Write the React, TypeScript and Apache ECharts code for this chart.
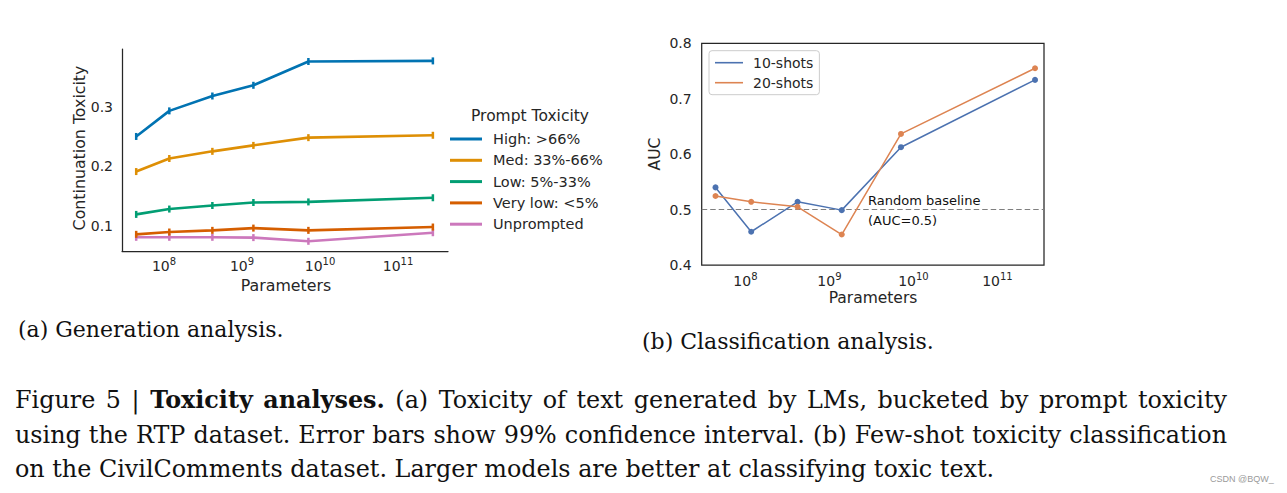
import React, { useEffect, useRef } from "react";
import * as echarts from "echarts";

// ---- data ----
const params = [4.4e7, 1.17e8, 4.17e8, 1.4e9, 7.1e9, 2.8e11];
const highTox = [0.25, 0.293, 0.318, 0.336, 0.376, 0.377];
const medTox = [0.191, 0.213, 0.225, 0.235, 0.248, 0.252];
const lowTox = [0.119, 0.128, 0.134, 0.139, 0.14, 0.147];
const veryLowTox = [0.0855, 0.0894, 0.0922, 0.096, 0.0922, 0.0978];
const unpromptedTox = [0.0805, 0.0805, 0.0805, 0.08, 0.0738, 0.0882];
const shots10 = [0.54, 0.46, 0.514, 0.499, 0.6125, 0.734];
const shots20 = [0.5245, 0.514, 0.505, 0.455, 0.6365, 0.755];
const xTickExps = [8, 9, 10, 11];
const leftYTicks = [0.1, 0.2, 0.3];
const genNames = ["High: >66%", "Med: 33%-66%", "Low: 5%-33%", "Very low: <5%", "Unprompted"];
const clsNames = ["10-shots", "20-shots"];

const captionLine1 = [
  { t: "Figure 5 |", bold: false },
  { t: "Toxicity analyses.", bold: true },
  { t: "(a) Toxicity of text generated by LMs, bucketed by prompt toxicity", bold: false },
];
const captionLine2 = "using the RTP dataset. Error bars show 99% confidence interval. (b) Few-shot toxicity classification";
const captionLine3 = "on the CivilComments dataset. Larger models are better at classifying toxic text.";

const SANS = "DejaVu Sans";
const SERIF = "DejaVu Serif";
const INK = "#262626";
const genColors = ["#0173b2", "#de8f05", "#029e73", "#d55e00", "#cc78bc"];
const clsColors = ["#4c72b0", "#dd8452"];
const CAP_SIZE = 23.85;

const toPts = (ys: number[]) => params.map((p, i) => [Math.log10(p), ys[i]]);

const expLabel = {
  formatter: (v: number) => `{b|10}{s|${v}}`,
  rich: {
    b: { fontSize: 14, fontFamily: SANS, color: INK, verticalAlign: "bottom" },
    s: { fontSize: 10, fontFamily: SANS, color: INK, verticalAlign: "bottom", padding: [0, 0, 7, 0] },
  },
};

function justified(segs: { t: string; bold: boolean }[], target: number, x: number, y: number) {
  const ctx = document.createElement("canvas").getContext("2d");
  const words: { w: string; bold: boolean }[] = [];
  segs.forEach((s) => s.t.split(" ").forEach((w) => words.push({ w, bold: s.bold })));
  let sum = 0;
  words.forEach((wd) => {
    if (ctx) {
      ctx.font = `${wd.bold ? "bold " : ""}${CAP_SIZE}px "${SERIF}"`;
      sum += ctx.measureText(wd.w).width;
    } else sum += wd.w.length * CAP_SIZE * 0.5;
  });
  const spaceW = Math.max(4, (target - sum) / (words.length - 1));
  const text = words.map((wd) => `{${wd.bold ? "b" : "r"}|${wd.w}}`).join("{sp| }");
  return {
    type: "text",
    x,
    y,
    style: {
      text,
      textAlign: "left",
      textVerticalAlign: "middle",
      rich: {
        r: { fontSize: CAP_SIZE, fontFamily: SERIF, fill: "#111" },
        b: { fontSize: CAP_SIZE, fontFamily: SERIF, fontWeight: "bold", fill: "#111" },
        sp: { fontSize: CAP_SIZE, fontFamily: SERIF, fill: "#111", width: spaceW },
      },
    },
  };
}

export default function App() {
  const ref = useRef<HTMLDivElement>(null);
  useEffect(() => {
    if (!ref.current) return;
    const chart = echarts.init(ref.current, undefined, { renderer: "svg" });
    const genSeries = [highTox, medTox, lowTox, veryLowTox, unpromptedTox].map((ys, i) => ({
      name: genNames[i],
      type: "line",
      xAxisIndex: 0,
      yAxisIndex: 0,
      data: toPts(ys),
      symbol: "rect",
      symbolSize: [2.5, 7],
      lineStyle: { width: 2.6, color: genColors[i] },
      itemStyle: { color: genColors[i] },
      z: 10 - i,
    }));
    const clsSeries = [shots10, shots20].map((ys, i) => ({
      name: clsNames[i],
      type: "line",
      xAxisIndex: 1,
      yAxisIndex: 1,
      data: toPts(ys),
      symbol: "circle",
      symbolSize: 6,
      showSymbol: true,
      lineStyle: { width: 1.5, color: clsColors[i] },
      itemStyle: { color: clsColors[i] },
      z: 10,
      ...(i === 0
        ? {
            markLine: {
              silent: true,
              symbol: "none",
              label: { show: false },
              lineStyle: { type: [5.5, 3], color: "#7f7f7f", width: 1.2 },
              data: [{ yAxis: 0.5 }],
              z: 2,
            },
          }
        : {}),
    }));

    chart.setOption({
      animation: false,
      backgroundColor: "#ffffff",
      grid: [
        { left: 122, top: 49, width: 326, height: 202, containLabel: false },
        {
          left: 701.7,
          top: 43.3,
          width: 342.3,
          height: 221.7,
          containLabel: false,
          show: true,
          borderColor: INK,
          borderWidth: 1.25,
          backgroundColor: "transparent",
        },
      ],
      xAxis: [
        {
          type: "value",
          gridIndex: 0,
          min: 7.4615,
          max: 11.641,
          axisLine: { show: true, lineStyle: { color: INK, width: 1.25 } },
          axisTick: { show: false },
          splitLine: { show: false },
          axisLabel: { ...expLabel, customValues: xTickExps, margin: 5 },
        },
        {
          type: "value",
          gridIndex: 1,
          min: 7.479,
          max: 11.554,
          axisLine: { show: false },
          axisTick: { show: false },
          splitLine: { show: false },
          axisLabel: { ...expLabel, customValues: xTickExps, margin: 6 },
        },
      ],
      yAxis: [
        {
          type: "value",
          gridIndex: 0,
          min: 0.0575,
          max: 0.397,
          axisLine: { show: true, lineStyle: { color: INK, width: 1.25 } },
          axisTick: { show: false },
          splitLine: { show: false },
          axisLabel: {
            customValues: leftYTicks,
            formatter: (v: number) => v.toFixed(1),
            fontSize: 14,
            fontFamily: SANS,
            color: INK,
            margin: 9,
          },
        },
        {
          type: "value",
          gridIndex: 1,
          min: 0.4,
          max: 0.8,
          interval: 0.1,
          axisLine: { show: false },
          axisTick: { show: false },
          splitLine: { show: false },
          axisLabel: {
            formatter: (v: number) => v.toFixed(1),
            fontSize: 14,
            fontFamily: SANS,
            color: INK,
            margin: 10,
          },
        },
      ],
      legend: [
        {
          data: genNames,
          orient: "vertical",
          left: 450,
          top: 131,
          padding: 0,
          itemGap: 5.3,
          itemWidth: 32,
          itemHeight: 3,
          icon: "rect",
          selectedMode: false,
          textStyle: { fontSize: 14.5, fontFamily: SANS, color: INK, lineHeight: 16, padding: [0, 0, 0, 6] },
        },
        {
          data: clsNames,
          orient: "vertical",
          left: 709,
          top: 50.7,
          padding: [4, 6, 4, 6],
          itemGap: 4,
          itemWidth: 28,
          itemHeight: 1.6,
          icon: "rect",
          selectedMode: false,
          backgroundColor: "rgba(255,255,255,0.85)",
          borderColor: "#cccccc",
          borderWidth: 1,
          borderRadius: 3,
          textStyle: { fontSize: 14, fontFamily: SANS, color: INK, lineHeight: 16, padding: [0, 0, 0, 5] },
        },
      ],
      graphic: [
        { type: "text", x: 530, y: 116, style: { text: "Prompt Toxicity", fontSize: 15.5, fontFamily: SANS, fill: INK, textAlign: "center", textVerticalAlign: "middle" } },
        { type: "text", x: 286, y: 285, style: { text: "Parameters", fontSize: 15.8, fontFamily: SANS, fill: INK, textAlign: "center", textVerticalAlign: "middle" } },
        { type: "text", x: 79, y: 148, rotation: Math.PI / 2, style: { text: "Continuation Toxicity", fontSize: 15.8, fontFamily: SANS, fill: INK, textAlign: "center", textVerticalAlign: "middle" } },
        { type: "text", x: 873, y: 298, style: { text: "Parameters", fontSize: 15.5, fontFamily: SANS, fill: INK, textAlign: "center", textVerticalAlign: "middle" } },
        { type: "text", x: 655, y: 154, rotation: Math.PI / 2, style: { text: "AUC", fontSize: 15.5, fontFamily: SANS, fill: INK, textAlign: "center", textVerticalAlign: "middle" } },
        { type: "text", x: 868, y: 200, style: { text: "Random baseline", fontSize: 13, fontFamily: SANS, fill: "#111", textAlign: "left", textVerticalAlign: "middle" } },
        { type: "text", x: 868, y: 220, style: { text: "(AUC=0.5)", fontSize: 13, fontFamily: SANS, fill: "#111", textAlign: "left", textVerticalAlign: "middle" } },
        { type: "text", x: 18, y: 329, style: { text: "(a) Generation analysis.", fontSize: 22, fontFamily: SERIF, fill: "#111", textAlign: "left", textVerticalAlign: "middle" } },
        { type: "text", x: 642, y: 341.5, style: { text: "(b) Classification analysis.", fontSize: 22, fontFamily: SERIF, fill: "#111", textAlign: "left", textVerticalAlign: "middle" } },
        justified(captionLine1, 1212, 15, 400),
        justified([{ t: captionLine2, bold: false }], 1212, 15, 435),
        { type: "text", x: 15, y: 469, style: { text: captionLine3, fontSize: CAP_SIZE, fontFamily: SERIF, fill: "#111", textAlign: "left", textVerticalAlign: "middle" } },
        { type: "text", x: 1210, y: 479, style: { text: "CSDN @BQW_", fontSize: 9, fontFamily: "Liberation Sans", fill: "#9a9a9a", textAlign: "left", textVerticalAlign: "middle" } },
      ],
      series: [...genSeries, ...clsSeries],
    });
    return () => chart.dispose();
  }, []);
  return (
    <div
      ref={ref}
      style={{ position: "fixed", left: 0, top: 0, width: 1287, height: 493, background: "#fff" }}
    />
  );
}
